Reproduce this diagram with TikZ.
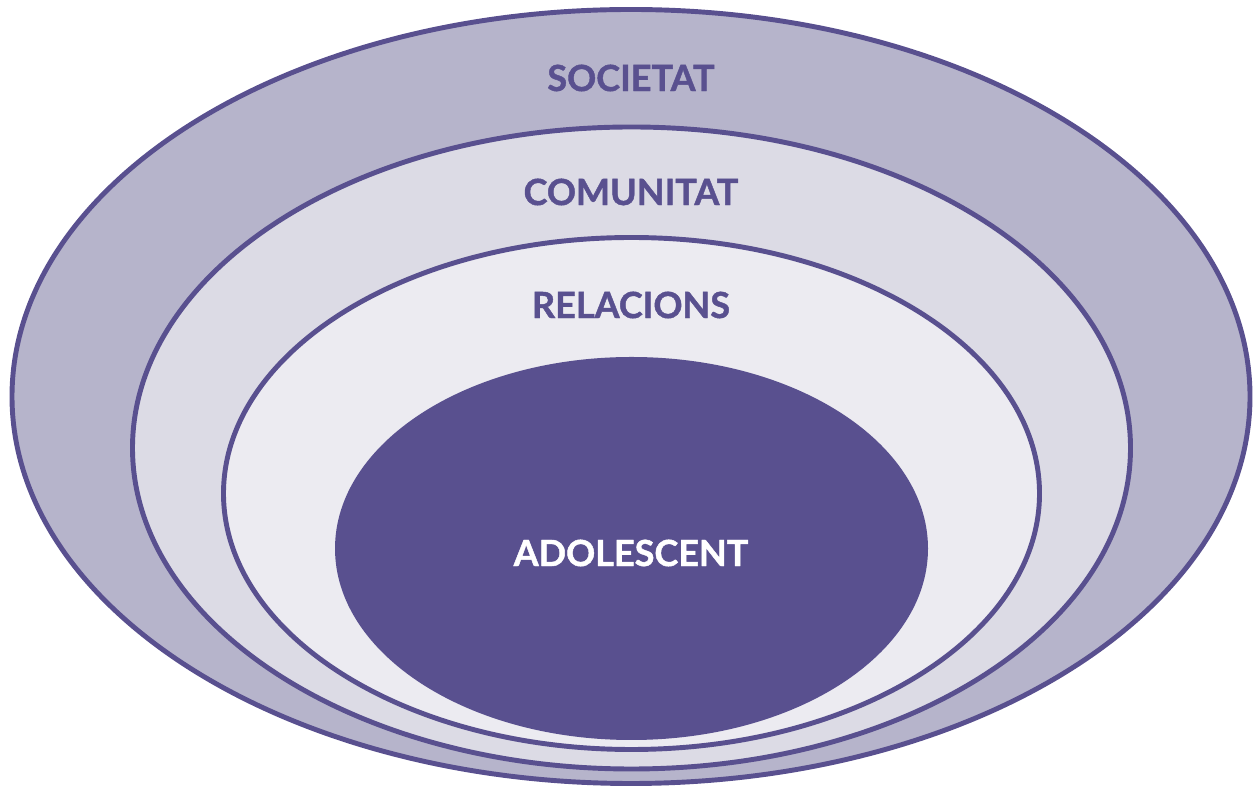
\documentclass[tikz,border=0pt]{standalone}
\usepackage{fontspec}
\setmainfont{Lato}[BoldFeatures={FakeBold=1.2}]
\usepackage{tikz}

\definecolor{violet}{HTML}{59508F}
\definecolor{outerfill}{HTML}{B6B4CB}
\definecolor{midfill}{HTML}{DCDBE5}
\definecolor{innerfill}{HTML}{ECEBF1}

\tikzset{
  ring/.style={draw=violet,line width=2.8pt},
  lbl/.style={font=\fontsize{20.5}{22}\selectfont\bfseries,text=violet}
}

\begin{document}
\begin{tikzpicture}
\useasboundingbox (0,0) rectangle (25.18,15.74);
%\draw [thick,red,dashed] (0,0) rectangle (25.18,15.74);
\draw [ring,fill=outerfill] (12.62,7.81) ellipse (12.38 and 7.74);
\draw [ring,fill=midfill] (12.63,6.78) ellipse (9.98 and 6.42);
\draw [ring,fill=innerfill] (12.63,5.87) ellipse (8.16 and 5.12);
\fill [violet] (12.63,4.77) ellipse (5.93 and 3.83);
\node [lbl] (societat) at(12.62,14.18){SOCIETAT};
\node [lbl] (comunitat) at(12.62,11.90){COMUNITAT};
\node [lbl] (relacions) at(12.62,9.64){RELACIONS};
\node [lbl,text=white] (adolescent) at(12.62,4.68){ADOLESCENT};
\end{tikzpicture}
\end{document}
